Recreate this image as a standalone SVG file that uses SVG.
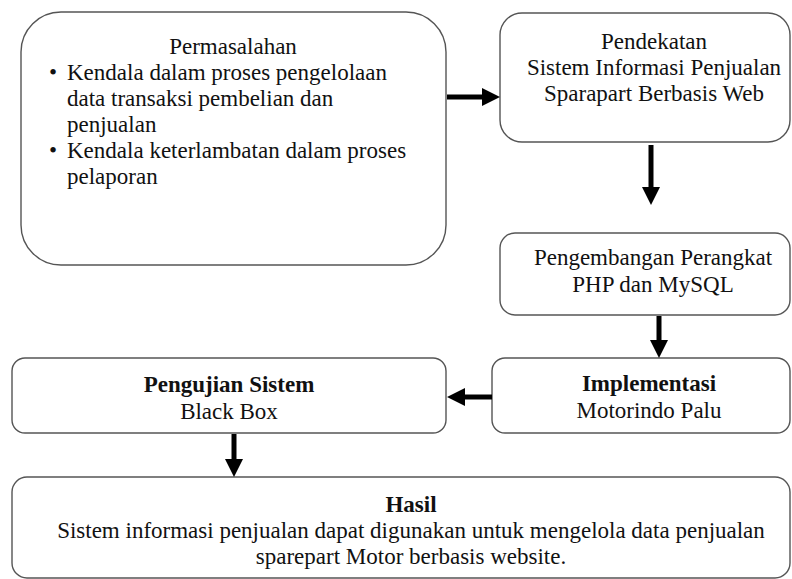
<svg xmlns="http://www.w3.org/2000/svg" width="792" height="579" viewBox="0 0 792 579">
<style>
.box{fill:#fff;stroke:#555;stroke-width:1.4}
.t{font-family:'Times New Roman','Liberation Serif',Times,serif;font-size:23px;fill:#111}
.c{text-anchor:middle}
.b{font-weight:bold}
.arr{stroke:#000;stroke-width:5;fill:none}
</style>
<defs>
<marker id="ah" markerUnits="userSpaceOnUse" markerWidth="18" markerHeight="18" viewBox="0 0 18 18" refX="0" refY="9" orient="auto">
<path d="M0,0 L18,9 L0,18 Z" fill="#000"/>
</marker>
</defs>
<rect width="792" height="579" fill="#fff"/>
<g id="permasalahan">
<rect class="box" x="21" y="12" width="425" height="253" rx="40" ry="40"/>
<text class="t c" x="233" y="54">Permasalahan</text>
<text class="t" x="49" y="80">•</text>
<text class="t" x="67" y="80">Kendala dalam proses pengelolaan</text>
<text class="t" x="67" y="106">data transaksi pembelian dan</text>
<text class="t" x="67" y="132">penjualan</text>
<text class="t" x="49" y="158">•</text>
<text class="t" x="67" y="158">Kendala keterlambatan dalam proses</text>
<text class="t" x="67" y="184">pelaporan</text>
</g>
<g id="pendekatan">
<rect class="box" x="500" y="13" width="290" height="129" rx="22" ry="22"/>
<text class="t c" x="654" y="49">Pendekatan</text>
<text class="t c" x="654" y="75">Sistem Informasi Penjualan</text>
<text class="t c" x="654" y="101">Sparapart Berbasis Web</text>
</g>
<g id="pengembangan">
<rect class="box" x="500" y="233" width="290" height="82" rx="15" ry="15"/>
<text class="t c" x="653" y="265">Pengembangan Perangkat</text>
<text class="t c" x="653" y="292">PHP dan MySQL</text>
</g>
<g id="implementasi">
<rect class="box" x="492" y="358" width="298" height="75" rx="13" ry="13"/>
<text class="t c b" x="649" y="391">Implementasi</text>
<text class="t c" x="649" y="418">Motorindo Palu</text>
</g>
<g id="pengujian">
<rect class="box" x="12" y="358" width="434" height="75" rx="13" ry="13"/>
<text class="t c b" x="229" y="392">Pengujian Sistem</text>
<text class="t c" x="229" y="419">Black Box</text>
</g>
<g id="hasil">
<rect class="box" x="12" y="477" width="778" height="101" rx="15" ry="15"/>
<text class="t c b" x="411" y="512">Hasil</text>
<text class="t c" x="411" y="538">Sistem informasi penjualan dapat digunakan untuk mengelola data penjualan</text>
<text class="t c" x="411" y="564">sparepart Motor berbasis website.</text>
</g>
<g id="connectors">
<line class="arr" x1="447" y1="97" x2="482" y2="97" marker-end="url(#ah)"/>
<line class="arr" x1="651" y1="145" x2="651" y2="187" marker-end="url(#ah)"/>
<line class="arr" x1="659" y1="316" x2="659" y2="340" marker-end="url(#ah)"/>
<line class="arr" x1="492" y1="397" x2="465" y2="397" marker-end="url(#ah)"/>
<line class="arr" x1="234" y1="434" x2="234" y2="459" marker-end="url(#ah)"/>
</g>
</svg>
